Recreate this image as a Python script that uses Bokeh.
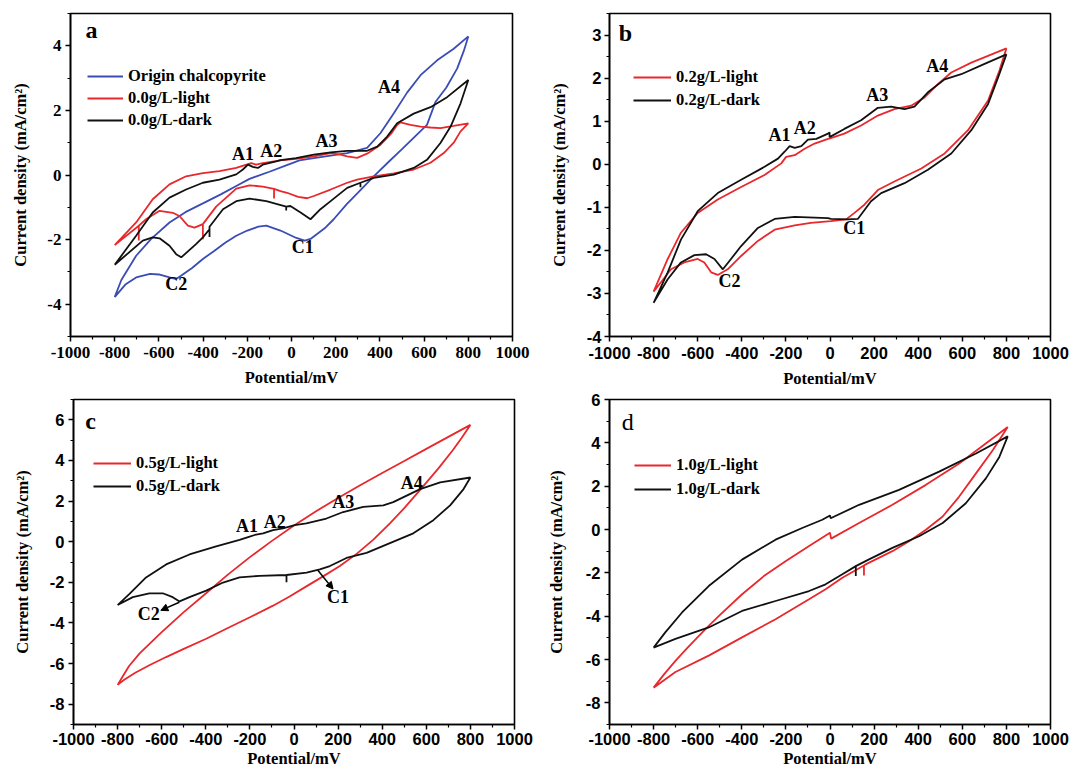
from bokeh.plotting import figure
from bokeh.models import Range1d, FixedTicker, Legend, LegendItem, Label, Arrow, NormalHead
from bokeh.layouts import column, row
from bokeh.embed import file_html
from bokeh.resources import INLINE

# ---------------- data ----------------
x_major = [-1000, -800, -600, -400, -200, 0, 200, 400, 600, 800, 1000]
x_minor = [-900, -700, -500, -300, -100, 100, 300, 500, 700, 900]
x_labels = ["-1000", "-800", "-600", "-400", "-200", "0", "200", "400", "600", "800", "1000"]

a_y_major = [-4, -2, 0, 2, 4]
a_y_minor = [-5, -3, -1, 1, 3, 5]
a_y_labels = ["-4", "-2", "0", "2", "4"]
b_y_major = [-4, -3, -2, -1, 0, 1, 2, 3]
b_y_minor = [-3.5, -2.5, -1.5, -0.5, 0.5, 1.5, 2.5, 3.5]
b_y_labels = ["-4", "-3", "-2", "-1", "0", "1", "2", "3"]
cd_y_major = [-8, -6, -4, -2, 0, 2, 4, 6]
cd_y_minor = [-9, -7, -5, -3, -1, 1, 3, 5, 7]
cd_y_labels = ["-8", "-6", "-4", "-2", "0", "2", "4", "6"]

# panel a
a_blue_x = [-800, -770, -703, -635, -552, -480, -401, -320, -250, -190, -100, -24, 36, 101, 200, 252, 342, 403, 463, 523, 584, 659, 734, 800,
            780, 750, 700, 652, 613, 500, 440, 372, 300, 250, 191, 150, 86, 60, 22, -50, -114, -150, -200, -250, -300, -350, -401, -450, -500, -522, -552, -600, -640, -703, -750, -800]
a_blue_y = [-3.78, -3.25, -2.50, -1.98, -1.47, -1.15, -0.88, -0.60, -0.34, -0.12, 0.10, 0.30, 0.45, 0.52, 0.62, 0.68, 0.84, 1.30, 1.91, 2.55, 3.09, 3.55, 3.91, 4.29,
            3.85, 3.30, 2.70, 2.27, 1.55, 0.80, 0.41, -0.04, -0.55, -0.90, -1.37, -1.65, -1.98, -2.03, -1.95, -1.72, -1.57, -1.60, -1.72, -1.88, -2.10, -2.35, -2.60, -2.88, -3.12, -3.22, -3.17, -3.08, -3.06, -3.17, -3.38, -3.78]
a_red_x = [-800, -703, -628, -552, -477, -401, -326, -250, -204, -182, -160, -130, -100, -50, 20, 101, 177, 222, 252, 297, 342, 403, 453, 478, 493, 538, 584, 629, 674, 734, 800,
           765, 734, 689, 629, 553, 463, 372, 297, 252, 177, 101, 71, 30, -20, -50, -79, -79, -79, -130, -190, -250, -341, -401, -401, -401, -439, -469, -507, -537, -597, -658, -691, -691, -691, -800]
a_red_y = [-2.17, -1.47, -0.75, -0.29, -0.04, 0.06, 0.12, 0.22, 0.32, 0.37, 0.32, 0.37, 0.40, 0.45, 0.50, 0.58, 0.68, 0.63, 0.58, 0.53, 0.66, 0.94, 1.30, 1.55, 1.63, 1.55, 1.50, 1.47, 1.45, 1.52, 1.60,
           1.35, 1.00, 0.68, 0.38, 0.17, 0.05, -0.04, -0.14, -0.24, -0.45, -0.65, -0.72, -0.68, -0.55, -0.50, -0.43, -0.73, -0.43, -0.36, -0.32, -0.42, -0.98, -1.52, -1.99, -1.52, -1.63, -1.57, -1.27, -1.17, -1.11, -1.37, -1.57, -2.03, -1.57, -2.17]
a_black_x = [-800, -703, -628, -552, -477, -401, -326, -250, -220, -197, -175, -152, -130, -70, -50, 20, 101, 177, 252, 342, 388, 433, 478, 553, 629, 704, 800,
             765, 720, 674, 613, 553, 463, 372, 312, 312, 312, 252, 177, 131, 86, 41, -5, -24, -24, -24, -114, -190, -250, -310, -371, -371, -371, -401, -432, -499, -522, -552, -597, -628, -673, -800]
a_black_y = [-2.78, -1.88, -1.16, -0.70, -0.45, -0.24, -0.14, 0.02, 0.17, 0.32, 0.25, 0.22, 0.32, 0.42, 0.46, 0.52, 0.63, 0.70, 0.75, 0.75, 0.88, 1.19, 1.60, 1.90, 2.10, 2.41, 2.94,
             2.22, 1.50, 0.99, 0.47, 0.22, 0.01, -0.09, -0.24, -0.38, -0.24, -0.40, -0.81, -1.06, -1.37, -1.16, -0.96, -0.98, -1.10, -0.98, -0.81, -0.73, -0.81, -1.06, -1.60, -1.92, -1.68, -1.93, -2.14, -2.55, -2.45, -2.19, -1.96, -1.93, -2.03, -2.78]

# panel b
b_red_x = [-800, -736, -676, -600, -509, -403, -297, -221, -199, -160, -115, -70, -9, 0, 65, 141, 217, 292, 368, 429, 489, 550, 641, 800,
           768, 717, 626, 520, 414, 292, 217, 156, 111, 73, 4, -87, -160, -251, -327, -403, -464, -509, -539, -570, -600, -661, -721, -800]
b_red_y = [-2.96, -2.20, -1.59, -1.13, -0.82, -0.53, -0.25, 0.02, 0.17, 0.21, 0.36, 0.48, 0.59, 0.60, 0.71, 0.90, 1.13, 1.28, 1.36, 1.55, 1.86, 2.13, 2.36, 2.69,
           2.17, 1.48, 0.79, 0.25, -0.10, -0.40, -0.60, -0.94, -1.13, -1.28, -1.32, -1.36, -1.42, -1.52, -1.78, -2.13, -2.44, -2.57, -2.51, -2.28, -2.20, -2.28, -2.44, -2.96]
b_black_x = [-800, -736, -676, -600, -509, -403, -297, -236, -206, -183, -160, -130, -100, -62, -9, -2, -2, 65, 141, 217, 277, 338, 383, 444, 520, 595, 701, 800,
             762, 717, 641, 550, 444, 338, 232, 186, 126, 80, 4, -9, -160, -251, -327, -403, -449, -486, -524, -562, -615, -676, -736, -800]
b_black_y = [-3.22, -2.51, -1.75, -1.09, -0.67, -0.36, -0.06, 0.13, 0.29, 0.42, 0.38, 0.42, 0.57, 0.59, 0.71, 0.74, 0.63, 0.82, 1.02, 1.31, 1.34, 1.28, 1.34, 1.67, 1.97, 2.09, 2.33, 2.55,
             2.01, 1.40, 0.79, 0.25, -0.13, -0.44, -0.67, -0.86, -1.27, -1.28, -1.27, -1.25, -1.22, -1.27, -1.48, -1.90, -2.20, -2.44, -2.20, -2.09, -2.11, -2.28, -2.67, -3.22]

# panel c
c_red_x = [-800, -775, -748, -700, -600, -500, -400, -300, -200, -100, 0, 100, 200, 300, 400, 500, 600, 700, 800,
           760, 720, 656, 572, 500, 435, 360, 284, 208, 130, 56, -20, -95, -200, -300, -398, -500, -580, -656, -720, -770, -800]
c_red_y = [-7.05, -6.60, -6.12, -5.50, -4.45, -3.47, -2.55, -1.62, -0.76, 0.04, 0.80, 1.50, 2.15, 2.78, 3.38, 3.97, 4.57, 5.16, 5.75,
           5.10, 4.50, 3.62, 2.55, 1.65, 0.90, 0.10, -0.60, -1.20, -1.72, -2.20, -2.70, -3.15, -3.72, -4.25, -4.78, -5.28, -5.68, -6.08, -6.45, -6.80, -7.05]
c_black_x = [-800, -746, -671, -580, -474, -353, -247, -201, -178, -140, -95, -50, 3, 56, 147, 223, 314, 405, 450, 511, 572, 663, 800,
             769, 708, 632, 541, 435, 329, 238, 163, 117, 57, -34, -34, -34, -156, -247, -322, -398, -474, -519, -550, -595, -656, -731, -800]
c_black_y = [-3.12, -2.57, -1.76, -1.12, -0.63, -0.23, 0.09, 0.25, 0.33, 0.41, 0.57, 0.66, 0.82, 0.90, 1.14, 1.46, 1.71, 1.79, 1.95, 2.27, 2.59, 2.92, 3.16,
             2.59, 1.79, 1.06, 0.41, -0.07, -0.55, -0.80, -1.20, -1.36, -1.52, -1.64, -2.00, -1.64, -1.68, -1.76, -2.01, -2.41, -2.73, -2.94, -2.73, -2.54, -2.54, -2.73, -3.12]

# panel d
d_red_x = [-800, -750, -700, -650, -600, -550, -500, -400, -300, -200, -100, 0, 5, 132, 283, 435, 586, 806,
           738, 662, 586, 511, 435, 359, 283, 162, 154, 154, 154, 56, -20, -95, -247, -399, -550, -701, -800]
d_red_y = [-7.30, -6.65, -6.05, -5.50, -4.97, -4.45, -3.95, -3.00, -2.15, -1.45, -0.80, -0.15, -0.42, 0.30, 1.14, 2.06, 3.05, 4.73,
           3.66, 2.59, 1.52, 0.60, -0.01, -0.54, -1.00, -1.61, -1.66, -2.12, -1.66, -2.23, -2.76, -3.22, -4.14, -4.98, -5.82, -6.58, -7.30]
d_black_x = [-800, -747, -671, -550, -399, -247, -126, -35, 0, 3, 132, 313, 495, 662, 806,
             768, 707, 616, 511, 404, 283, 177, 117, 117, 117, 56, -20, -95, -247, -399, -550, -701, -800]
d_black_y = [-5.45, -4.75, -3.83, -2.61, -1.39, -0.47, 0.07, 0.45, 0.65, 0.52, 1.14, 1.83, 2.67, 3.51, 4.30,
             3.35, 2.36, 1.21, 0.30, -0.31, -0.85, -1.38, -1.69, -2.15, -1.69, -2.07, -2.53, -2.84, -3.30, -3.76, -4.52, -5.05, -5.45]

# ---------------- styling ----------------
SERIF = "Liberation Serif"
SANS = "Liberation Sans"
BLUE = "#3b4db5"
RED = "#e8282c"
BLACK = "#111111"
LW = 1.8


def make_panel(w, h, bl, br, bt, bb, yr, ymaj, ymin, ylab, tick_font, tick_size,
               ylab_standoff, xlab_standoff, xtick_standoff, ytick_standoff):
    p = figure(width=w, height=h, x_range=Range1d(-1000, 1000), y_range=Range1d(*yr),
               output_backend="svg", toolbar_location=None,
               min_border_left=bl, min_border_right=br, min_border_top=bt, min_border_bottom=bb)
    p.grid.visible = False
    p.outline_line_color = "black"
    p.outline_line_width = 1.6
    p.outline_line_alpha = 1.0
    p.background_fill_color = "white"
    p.border_fill_color = "white"
    p.xaxis.ticker = FixedTicker(ticks=x_major, minor_ticks=x_minor)
    p.xaxis.major_label_overrides = {v: s for v, s in zip(x_major, x_labels)}
    p.yaxis.ticker = FixedTicker(ticks=ymaj, minor_ticks=ymin)
    p.yaxis.major_label_overrides = {v: s for v, s in zip(ymaj, ylab)}
    for ax in (p.xaxis[0], p.yaxis[0]):
        ax.axis_line_width = 1.6
        ax.axis_line_color = "black"
        ax.major_tick_in = 0
        ax.major_tick_out = 5
        ax.minor_tick_in = 0
        ax.minor_tick_out = 3
        ax.major_tick_line_width = 1.5
        ax.minor_tick_line_width = 1.2
        ax.major_tick_line_color = "black"
        ax.minor_tick_line_color = "black"
        ax.major_label_text_font = tick_font
        ax.major_label_text_font_style = "bold"
        ax.major_label_text_font_size = tick_size
        ax.major_label_text_color = "black"
        ax.axis_label_text_font = SERIF
        ax.axis_label_text_font_style = "bold"
        ax.axis_label_text_font_size = "16.5px"
        ax.axis_label_text_color = "black"
    p.xaxis.axis_label = "Potential/mV"
    p.yaxis.axis_label = "Current density (mA/cm²)"
    p.yaxis.axis_label_standoff = ylab_standoff
    p.xaxis.axis_label_standoff = xlab_standoff
    p.xaxis.major_label_standoff = xtick_standoff
    p.yaxis.major_label_standoff = ytick_standoff
    return p


def add_legend(p, entries, vx, vy, spacing, glyph_w):
    items = [LegendItem(label=name, renderers=[r]) for name, r in entries]
    leg = Legend(items=items, location=(vx, vy), padding=0, margin=0, spacing=spacing,
                 glyph_width=glyph_w, glyph_height=18, label_height=18, label_standoff=5,
                 border_line_alpha=0, background_fill_alpha=0,
                 label_text_font=SERIF, label_text_font_style="bold",
                 label_text_font_size="16.5px", label_text_color="black")
    p.add_layout(leg)


def add_text(p, x, y, s, size="18px", style="bold"):
    p.add_layout(Label(x=x, y=y, text=s, text_align="center", text_baseline="middle",
                       text_font=SERIF, text_font_style=style, text_font_size=size,
                       text_color="black"))


# ---- panel a ----
pa = make_panel(530, 390, 70, 18, 13, 52, (-5, 5), a_y_major, a_y_minor, a_y_labels, SERIF, "17px", 14, 7, 5, 4)
ra1 = pa.line(a_blue_x, a_blue_y, line_color=BLUE, line_width=LW)
ra2 = pa.line(a_red_x, a_red_y, line_color=RED, line_width=LW)
ra3 = pa.line(a_black_x, a_black_y, line_color=BLACK, line_width=LW)
add_legend(pa, [("Origin chalcopyrite", ra1), ("0.0g/L-light", ra2), ("0.0g/L-dark", ra3)], 17, 206, 2, 36)
add_text(pa, -905, 4.5, "a", size="24px")
for s, x, y in [("A1", -220, 0.66), ("A2", -92, 0.74), ("A3", 158, 1.04), ("A4", 441, 2.72),
                ("C1", 51, -2.24), ("C2", -522, -3.39)]:
    add_text(pa, x, y, s)

# ---- panel b ----
pb = make_panel(539, 390, 79, 19, 12, 52, (-4, 3.5), b_y_major, b_y_minor, b_y_labels, SANS, "16.5px", 15, 7, 5, 3)
rb1 = pb.line(b_red_x, b_red_y, line_color=RED, line_width=LW)
rb2 = pb.line(b_black_x, b_black_y, line_color=BLACK, line_width=LW)
add_legend(pb, [("0.2g/L-light", rb1), ("0.2g/L-dark", rb2)], 24, 226, 3, 38)
add_text(pb, -928, 3.05, "b", size="24px")
for s, x, y in [("A1", -229, 0.67), ("A2", -115, 0.85), ("A3", 214, 1.61), ("A4", 486, 2.28),
                ("C1", 110, -1.48), ("C2", -456, -2.70)]:
    add_text(pb, x, y, s)

# ---- panel c ----
pc = make_panel(533, 380, 73, 19, 9, 40, (-9, 7), cd_y_major, cd_y_minor, cd_y_labels, SANS, "16.5px", 15, 1, 3, 4)
rc1 = pc.line(c_red_x, c_red_y, line_color=RED, line_width=LW)
rc2 = pc.line(c_black_x, c_black_y, line_color=BLACK, line_width=LW)
add_legend(pc, [("0.5g/L-light", rc1), ("0.5g/L-dark", rc2)], 20, 228, 3, 38)
add_text(pc, -923, 5.94, "c", size="24px")
for s, x, y in [("A1", -213, 0.79), ("A2", -87, 0.98), ("A3", 223, 1.95), ("A4", 534, 2.88),
                ("C1", 200, -2.73), ("C2", -659, -3.54)]:
    add_text(pc, x, y, s)
pc.add_layout(Arrow(end=NormalHead(size=7, fill_color="black", line_color="black"),
                    x_start=108, y_start=-1.41, x_end=177, y_end=-2.33, line_width=1.5, line_color="black"))
pc.add_layout(Arrow(end=NormalHead(size=7, fill_color="black", line_color="black"),
                    x_start=-520, y_start=-2.98, x_end=-604, y_end=-3.38, line_width=1.5, line_color="black"))

# ---- panel d ----
pd_ = make_panel(536, 380, 76, 19, 9, 40, (-9, 6), cd_y_major, cd_y_minor, cd_y_labels, SANS, "16.5px", 17, 1, 3, 4)
rd1 = pd_.line(d_red_x, d_red_y, line_color=RED, line_width=LW)
rd2 = pd_.line(d_black_x, d_black_y, line_color=BLACK, line_width=LW)
add_legend(pd_, [("1.0g/L-light", rd1), ("1.0g/L-dark", rd2)], 25, 225, 4, 37)
add_text(pd_, -917, 4.96, "d", size="24px", style="normal")

layout = column(row(pa, pb), row(pc, pd_))

with open("out.html", "w") as f:
    f.write(file_html(layout, INLINE))
